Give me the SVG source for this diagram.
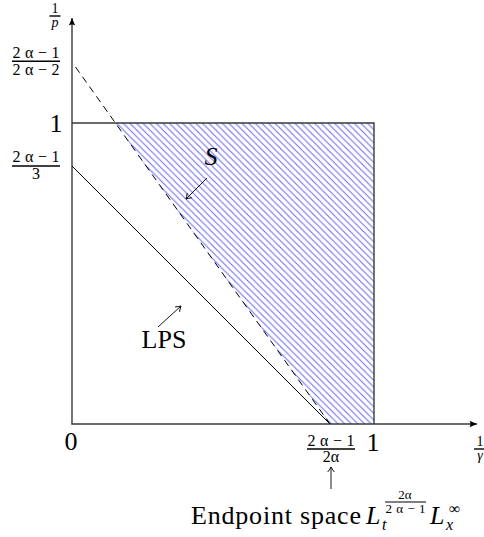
<svg xmlns="http://www.w3.org/2000/svg" width="484" height="537" viewBox="0 0 484 537" font-family="'Liberation Serif', 'Times New Roman', serif">
<style>
text{font-family:'Liberation Serif','Times New Roman',serif;fill:#000}
.m{font-size:26px}
.f{font-size:16px}
.g{font-size:14px}
.s{font-size:13px}
.i{font-style:italic}
.bar{stroke:#000;stroke-width:1.4}
.ax{stroke:#3a3a3a;stroke-width:1.4;fill:none}
.sm{stroke:#000;stroke-width:0.9;fill:none}
</style>
<defs>
<pattern id="hatch" patternUnits="userSpaceOnUse" width="6.6" height="6.6">
<path d="M0,0 L6.6,6.6 M-1,5.6 L1,7.6 M5.6,-1 L7.6,1" stroke="#6e6ef2" stroke-width="1.1"/>
</pattern>
<marker id="ah" markerUnits="userSpaceOnUse" markerWidth="12" markerHeight="12" refX="0" refY="0" viewBox="-9 -6 12 12" orient="auto">
<path d="M0,0 L-7.5,-3.2 Q-5.5,0 -7.5,3.2 Z" fill="#000"/>
</marker>
<marker id="sh" markerUnits="userSpaceOnUse" markerWidth="12" markerHeight="12" refX="0" refY="0" viewBox="-8 -6 10 12" orient="auto">
<path d="M-5,-3.3 Q-1.5,-0.6 0,0 Q-1.5,0.6 -5,3.3" stroke="#000" stroke-width="0.9" fill="none"/>
</marker>
</defs>

<g id="region-S">
<polygon points="115,123 374,123 374,424 330,424" fill="url(#hatch)"/>
</g>

<g id="connectors">
<line id="y-axis" class="ax" x1="72" y1="424.5" x2="72" y2="18" marker-end="url(#ah)"/>
<line id="x-axis" class="ax" x1="71.5" y1="424" x2="477" y2="424" marker-end="url(#ah)"/>
<polyline id="square" class="ax" points="72,123 374,123 374,424"/>
<line id="lps-line" x1="72" y1="166" x2="330" y2="424" stroke="#000" stroke-width="1"/>
<line id="dashed-line" x1="75.5" y1="67" x2="330" y2="424" stroke="#000" stroke-width="1" stroke-dasharray="7,5"/>
<line id="s-arrow" class="sm" x1="207" y1="178" x2="186" y2="199" marker-end="url(#sh)"/>
<line id="lps-arrow" class="sm" x1="158" y1="327" x2="181" y2="306" marker-end="url(#sh)"/>
<line id="end-arrow" class="sm" x1="331" y1="489" x2="331" y2="467" marker-end="url(#sh)"/>
</g>

<g id="label-1-over-p">
<text class="g" x="55" y="13" text-anchor="middle">1</text>
<line class="bar" x1="49.5" y1="16" x2="60.5" y2="16"/>
<text class="g i" x="55" y="27" text-anchor="middle">p</text>
</g>

<g id="label-ytop">
<text class="f" x="36" y="57.5" text-anchor="middle" textLength="47" lengthAdjust="spacing">2α−1</text>
<line class="bar" x1="12" y1="61.3" x2="60" y2="61.3"/>
<text class="f" x="36" y="74.5" text-anchor="middle" textLength="47" lengthAdjust="spacing">2α−2</text>
</g>

<g id="label-y1">
<text class="m" x="56" y="132" text-anchor="middle">1</text>
</g>

<g id="label-ylps">
<text class="f" x="36" y="162" text-anchor="middle" textLength="47" lengthAdjust="spacing">2α−1</text>
<line class="bar" x1="12" y1="166" x2="60" y2="166"/>
<text class="f" x="36" y="179" text-anchor="middle">3</text>
</g>

<g id="label-0">
<text class="m" x="71" y="450" text-anchor="middle">0</text>
</g>

<g id="label-x1">
<text class="m" x="373" y="451" text-anchor="middle">1</text>
</g>

<g id="label-xend">
<text class="f" x="331" y="445.5" text-anchor="middle" textLength="47" lengthAdjust="spacing">2α−1</text>
<line class="bar" x1="307" y1="449" x2="355" y2="449"/>
<text class="f" x="331" y="462" text-anchor="middle">2α</text>
</g>

<g id="label-1-over-gamma">
<text class="g" x="480" y="445.5" text-anchor="middle">1</text>
<line class="bar" x1="474" y1="449" x2="486" y2="449"/>
<text class="g i" x="480" y="460" text-anchor="middle">γ</text>
</g>

<g id="label-S">
<text class="m i" x="211" y="165" text-anchor="middle">S</text>
</g>

<g id="label-LPS">
<text class="m" x="164" y="348" text-anchor="middle">LPS</text>
</g>

<g id="label-endpoint">
<text class="m" x="191" y="524" textLength="170" lengthAdjust="spacing">Endpoint space</text>
<text class="m i" x="366" y="524">L</text>
<text class="f i" x="382" y="530">t</text>
<text class="s" x="405" y="499" text-anchor="middle">2α</text>
<line stroke="#000" stroke-width="1.2" x1="385" y1="502" x2="426" y2="502"/>
<text class="s" x="405.5" y="513" text-anchor="middle" textLength="40" lengthAdjust="spacing">2α−1</text>
<text class="m i" x="430" y="524">L</text>
<text class="f i" x="446" y="530">x</text>
<text class="f" x="449" y="514">∞</text>
</g>
</svg>
